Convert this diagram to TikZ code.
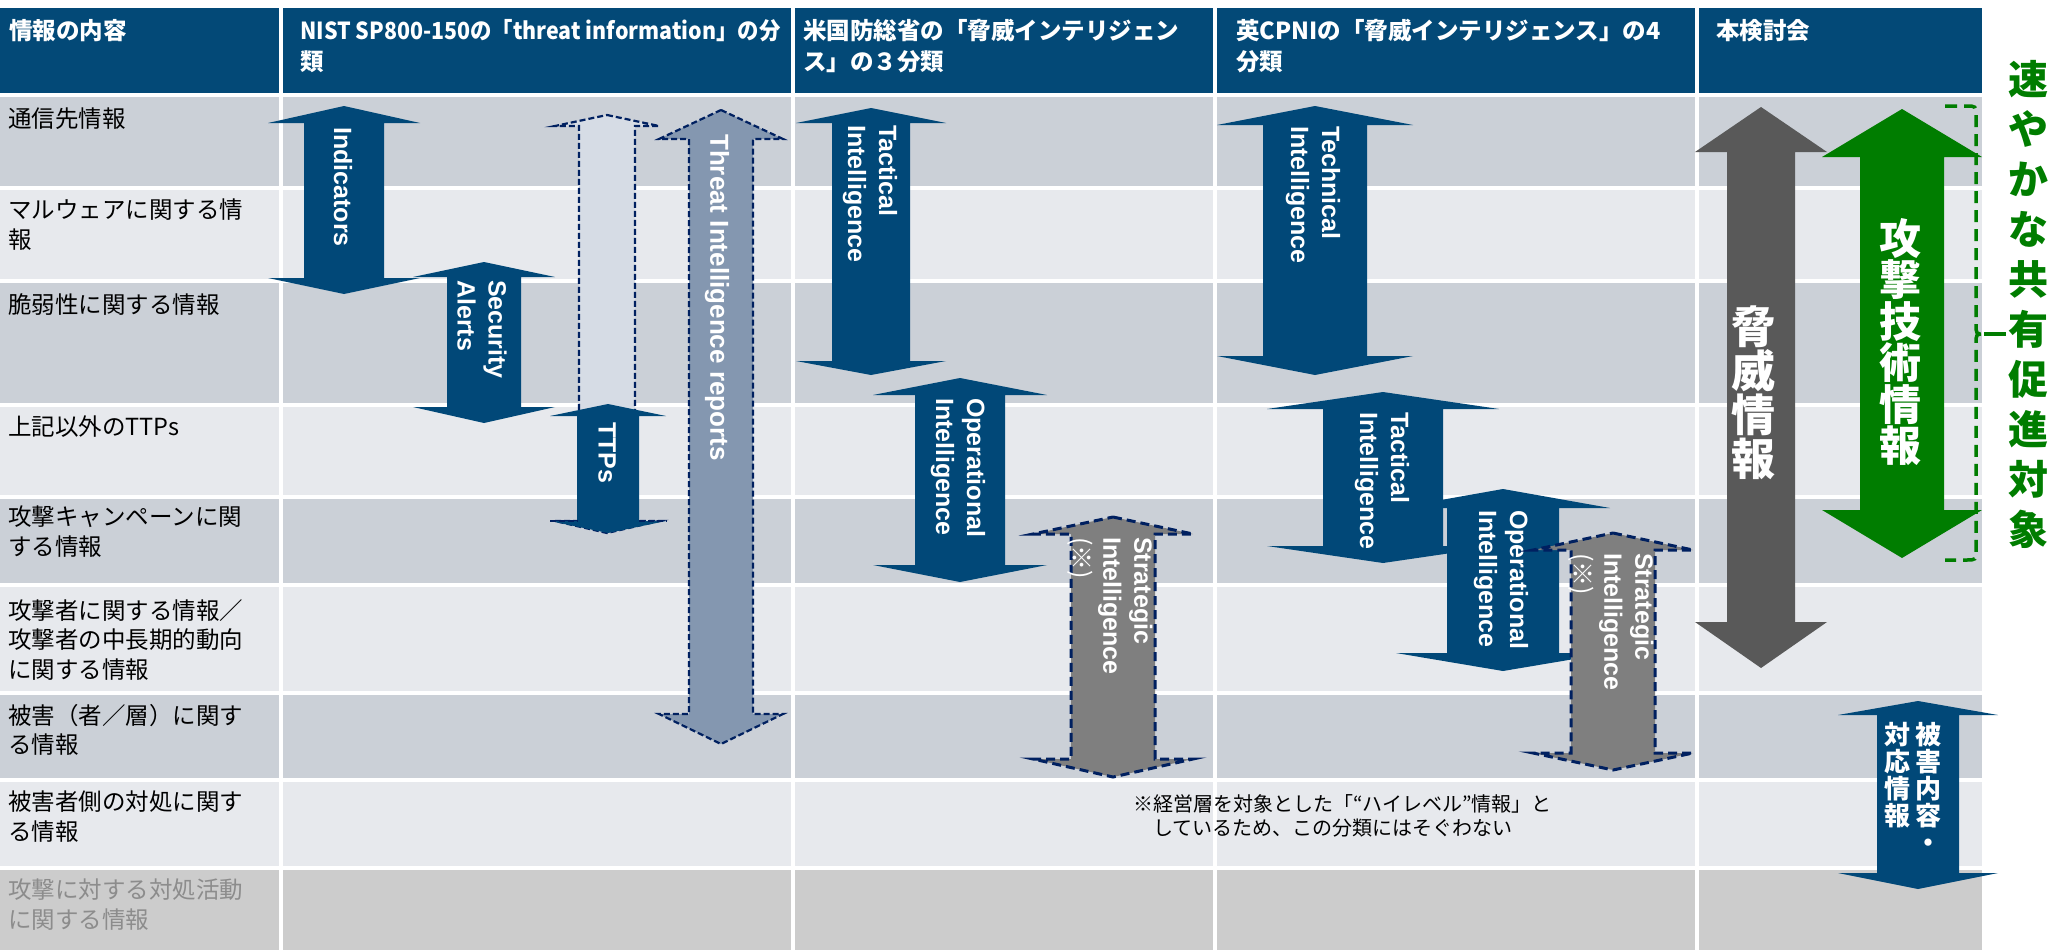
\documentclass[tikz,border=0pt]{standalone}
\usepackage{graphicx}
\usepackage{fontspec}
\setmainfont{Liberation Sans}
\newfontfamily\jp{Noto Sans CJK JP}
\definecolor{hdr}{RGB}{3,73,119}
\definecolor{arw}{RGB}{1,72,120}
\definecolor{rowd}{RGB}{203,208,215}
\definecolor{rowl}{RGB}{231,233,237}
\definecolor{rowg}{RGB}{204,204,204}
\definecolor{navy}{RGB}{0,32,96}
\definecolor{tifill}{RGB}{132,151,176}
\definecolor{ltfill}{RGB}{214,220,229}
\definecolor{strfill}{RGB}{127,127,127}
\definecolor{thr}{RGB}{89,89,89}
\definecolor{grn}{RGB}{0,125,0}
\definecolor{lblgray}{RGB}{140,140,140}
% #1 style, #2 centre x, #3 shaft half width, #4 head half width,
% #5 top tip, #6 top head base, #7 bottom head base, #8 bottom tip
\newcommand\dblarr[8]{%
  \path[#1] (#2,#5) -- ({#2+#4},#6) -- ({#2+#3},#6) -- ({#2+#3},#7) -- ({#2+#4},#7)
    -- (#2,#8) -- ({#2-#4},#7) -- ({#2-#3},#7) -- ({#2-#3},#6) -- ({#2-#4},#6) -- cycle;}
\tikzset{
  bluearr/.style={fill=arw},
  tiarr/.style={fill=tifill, draw=navy, line width=2.2pt, dash pattern=on 6pt off 3pt, line join=miter},
  ltarr/.style={fill=ltfill, draw=navy, line width=2.2pt, dash pattern=on 6pt off 3pt, line join=miter},
  strarr/.style={fill=strfill, draw=navy, line width=3pt, dash pattern=on 9pt off 5pt, line join=miter},
  albl/.style={text=white, font=\bfseries\fontsize{25}{31}\selectfont, rotate=-90,
    anchor=west, inner sep=0pt, align=left},
  hdrtxt/.style={text=white, font=\jp\bfseries\fontsize{23.5}{31}\selectfont,
    anchor=north west, inner sep=0pt, align=left},
  rowtxt/.style={text=black, font=\jp\fontsize{23.5}{29.5}\selectfont,
    anchor=north west, inner sep=0pt, align=left},
  vjp/.style={text=white, align=center, inner sep=0pt},
  gridline/.style={white, line width=4pt},
  bracket/.style={draw=grn, line width=3.5pt, dash pattern=on 12pt off 7pt},
}
\begin{document}
\begin{tikzpicture}[x=1pt,y=-1pt]
\useasboundingbox (0,0) rectangle (2049,950);
% ---------- table background ----------
\fill[hdr] (0,8) rectangle (1982,95);
\fill[rowd] (0,95) rectangle (1982,188);
\fill[rowl] (0,188) rectangle (1982,281);
\fill[rowd] (0,281) rectangle (1982,405);
\fill[rowl] (0,405) rectangle (1982,497);
\fill[rowd] (0,497) rectangle (1982,585);
\fill[rowl] (0,585) rectangle (1982,693);
\fill[rowd] (0,693) rectangle (1982,780);
\fill[rowl] (0,780) rectangle (1982,868);
\fill[rowg] (0,868) rectangle (1982,950);
\foreach \yy in {95,188,281,405,497,585,693,780,868}
  \draw[gridline] (0,\yy) -- (1982,\yy);
\foreach \xx in {281,793,1215,1697}
  \draw[gridline] (\xx,8) -- (\xx,950);
% ---------- header texts ----------
\node[hdrtxt] (h0) at (9,19) {情報の内容};
\node[hdrtxt] (h1) at (300,19) {\scalebox{0.91}[1]{NIST SP800-150の「threat information」の分}\\類};
\node[hdrtxt] (h2) at (803,19) {米国防総省の「脅威インテリジェン\\ス」の３分類};
\node[hdrtxt] (h3) at (1236,19) {英CPNIの「脅威インテリジェンス」の4\\分類};
\node[hdrtxt] (h4) at (1716,19) {本検討会};
% ---------- row labels ----------
\node[rowtxt] (r1) at (8,108) {通信先情報};
\node[rowtxt] (r2) at (8,199) {マルウェアに関する情\\報};
\node[rowtxt] (r3) at (8,293) {脆弱性に関する情報};
\node[rowtxt] (r4) at (8,416) {上記以外のTTPs};
\node[rowtxt] (r5) at (8,506) {攻撃キャンペーンに関\\する情報};
\node[rowtxt] (r6) at (8,599) {攻撃者に関する情報／\\攻撃者の中長期的動向\\に関する情報};
\node[rowtxt] (r7) at (8,704) {被害（者／層）に関す\\る情報};
\node[rowtxt] (r8) at (8,791) {被害者側の対処に関す\\る情報};
\node[rowtxt, text=lblgray] (r9) at (8,879) {攻撃に対する対処活動\\に関する情報};
% ---------- NIST column ----------
\dblarr{bluearr}{344}{40}{76}{106}{123}{278}{294}
\node[albl] (ind) at (343,127) {Indicators};
\dblarr{bluearr}{484}{37}{71}{262}{277}{407}{423}
\node[albl] (sec) at (482,280) {Security\\Alerts};
\dblarr{ltarr}{607}{28}{52}{115}{126}{521}{533}
\dblarr{bluearr}{608}{31}{58}{404}{416}{521}{533}
\draw[ltarr, fill=none] (550,521) -- (578,521);
\draw[ltarr, fill=none] (639,521) -- (667,521);
\node[albl] (ttp) at (607,422) {TTPs};
\dblarr{tiarr}{721}{32}{62}{110}{139}{714}{744}
\node[albl, font=\bfseries\fontsize{26}{31}\selectfont] (tir) at (717,134) {Threat Intelligence reports};
% ---------- US DoD column ----------
\dblarr{bluearr}{871}{39}{75}{108}{123}{361}{375}
\node[albl] (dtac) at (870,125) {Tactical\\Intelligence};
\dblarr{bluearr}{960}{45}{87}{378}{395}{565}{582}
\node[albl] (dope) at (958,398) {Operational\\Intelligence};
\dblarr{strarr}{1113}{42}{80}{517}{534}{759}{777}
\node[albl] (dstr) at (1110,537) {Strategic\\Intelligence\\{\jp\mdseries (※)}};
% ---------- UK CPNI column ----------
\dblarr{bluearr}{1315}{52}{98}{106}{125}{356}{375}
\node[albl] (ctec) at (1313,126) {Technical\\Intelligence};
\dblarr{bluearr}{1383}{60}{116}{392}{409}{546}{563}
\node[albl] (ctac) at (1382,412) {Tactical\\Intelligence};
\dblarr{bluearr}{1503}{56}{107}{489}{508}{653}{671}
\node[albl] (cope) at (1501,510) {Operational\\Intelligence};
\dblarr{strarr}{1613}{42}{80}{533}{550}{753}{770}
\node[albl] (cstr) at (1611,553) {Strategic\\Intelligence\\{\jp\mdseries (※)}};
% ---------- this study column ----------
\dblarr{fill=thr}{1761}{34}{66}{107}{152}{622}{668}
\node[vjp, font=\jp\bfseries\fontsize{44}{44}\selectfont] (kyoi) at (1753,393) {脅\\威\\情\\報};
\dblarr{fill=grn}{1902}{42}{80}{109}{157}{510}{558}
\node[vjp, font=\jp\bfseries\fontsize{42}{41.5}\selectfont] (kogeki) at (1900,342) {攻\\撃\\技\\術\\情\\報};
\dblarr{bluearr}{1918}{41}{80}{701}{715}{873}{889}
\node[vjp, anchor=north, font=\jp\bfseries\fontsize{26}{27}\selectfont] (hg1) at (1928,722) {被\\害\\内\\容\\・};
\node[vjp, anchor=north, font=\jp\bfseries\fontsize{26}{27}\selectfont] (hg2) at (1897,722) {対\\応\\情\\報};
% ---------- green bracket and side text ----------
\coordinate (bk) at (1984,334);
\coordinate (bkend) at (2006,334);
\draw[bracket] (1945,106) -- (1966,106) .. controls (1976,106) .. (1976,116) -- (1976,324)
  .. controls (1976,334) .. (bk) .. controls (1976,334) .. (1976,344) -- (1976,550)
  .. controls (1976,560) .. (1966,560) -- (1945,560);
\draw[grn, line width=3.5pt] (bk) -- (bkend);
\node[text=grn, align=center, inner sep=0pt, font=\jp\bfseries\fontsize{40}{50}\selectfont] (share) at (2028,304) {速\\や\\か\\な\\共\\有\\促\\進\\対\\象};
% ---------- footnote ----------
\node[anchor=north west, inner sep=0pt, align=left, font=\jp\fontsize{20}{24}\selectfont] (note) at (1133,794) {※経営層を対象とした「“ハイレベル”情報」と\\　しているため、この分類にはそぐわない};
\end{tikzpicture}
\end{document}
